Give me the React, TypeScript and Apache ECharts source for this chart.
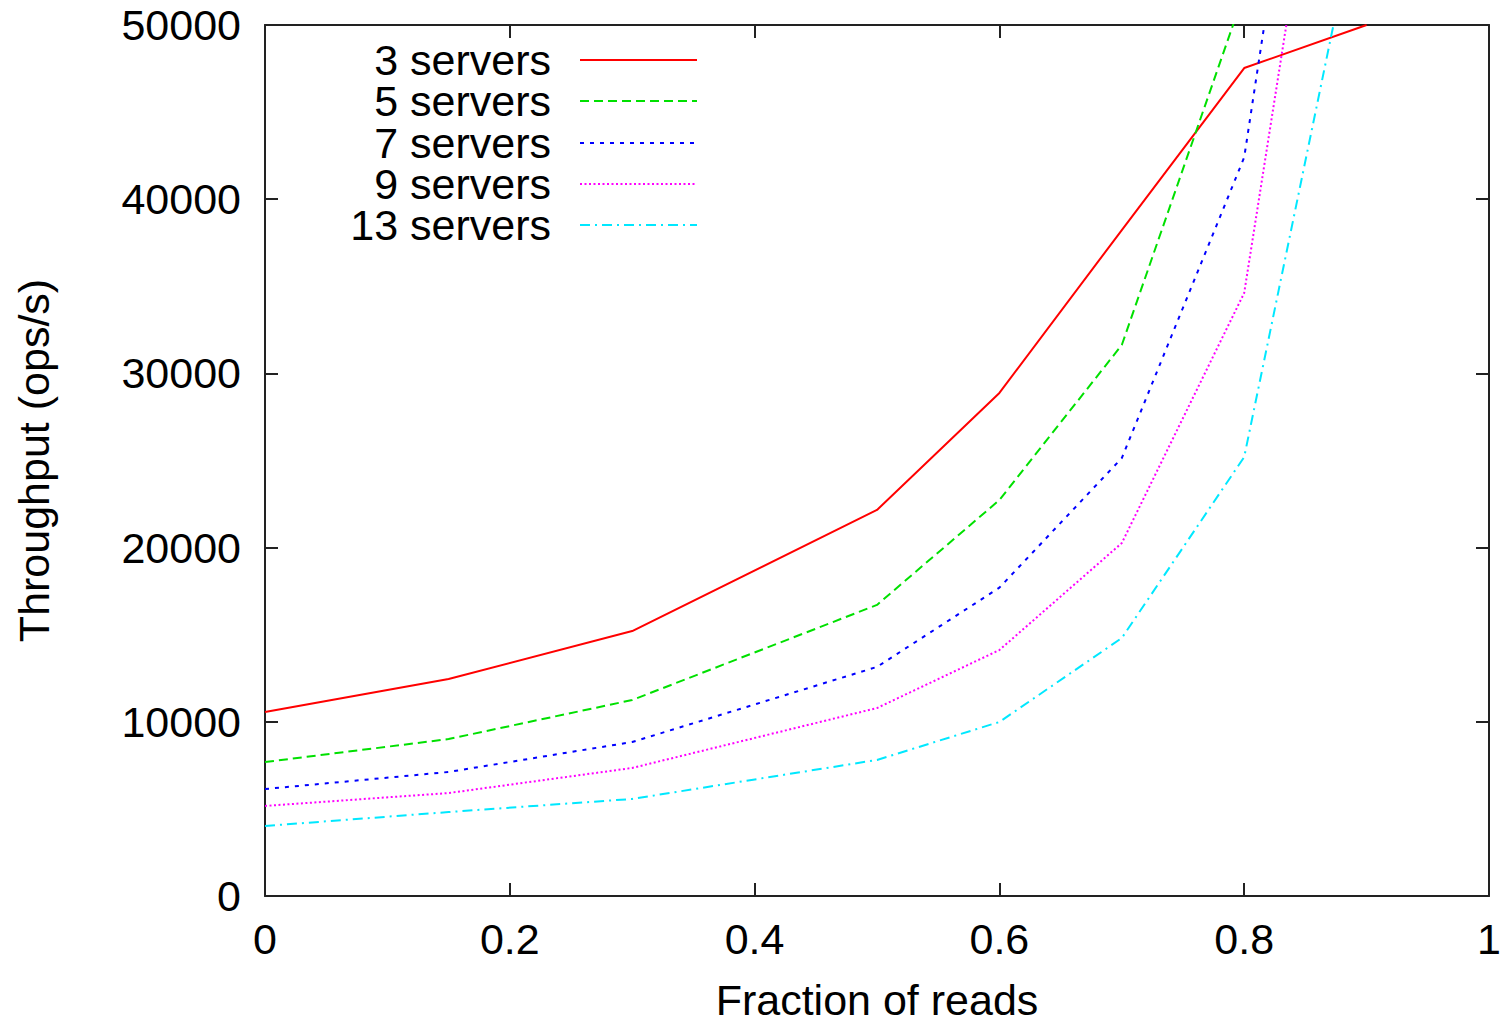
import React, { useEffect, useRef } from "react";
import * as echarts from "echarts";

const readFractions = [0, 0.15, 0.3, 0.5, 0.6, 0.7, 0.8, 0.9];
const servers3 = [10560, 12460, 15210, 22160, 28880, 38230, 47530, 50000];
const servers5 = [7690, 9010, 11250, 16710, 22730, 31630, 51840, null];
const servers7 = [6140, 7120, 8840, 13150, 17700, 25140, 42400, 88600];
const servers9 = [5170, 5910, 7350, 10790, 14120, 20260, 34620, 79300];
const servers13 = [4020, 4820, 5570, 7810, 9990, 14810, 25200, 59200];

const seriesNames = ["3 servers", "5 servers", "7 servers", "9 servers", "13 servers"];
const seriesValues = [servers3, servers5, servers7, servers9, servers13];
const seriesColors = ["#ff0000", "#00e000", "#0000ff", "#ff00ff", "#00e8ff"];
const seriesDash: (string | number[])[] = ["solid", [9, 5], [4, 6], [2, 2.5], [10, 5, 2, 5]];

const xTicks = [0, 0.2, 0.4, 0.6, 0.8, 1];
const yTicks = [0, 10000, 20000, 30000, 40000, 50000];

const FONT = "'Liberation Sans', Arial, Helvetica, sans-serif";
const FS = 43;

export default function App() {
  const ref = useRef<HTMLDivElement>(null);
  useEffect(() => {
    if (!ref.current) return;
    const chart = echarts.init(ref.current, undefined, { renderer: "svg" });
    const axisLine = { show: true, onZero: false, lineStyle: { color: "#222", width: 2 } };
    const axisTick = { show: true, inside: true, length: 13, lineStyle: { color: "#222", width: 2 } };

    const legendGraphics: any[] = [];
    const legendY = [60, 101, 143, 184, 225];
    seriesNames.forEach((n, i) => {
      legendGraphics.push({
        type: "text",
        x: 551,
        y: legendY[i],
        style: {
          text: n,
          fill: "#000",
          fontSize: 43,
          fontFamily: FONT,
          lineHeight: 38,
          textAlign: "right",
          textVerticalAlign: "middle",
        },
      });
      legendGraphics.push({
        type: "line",
        shape: { x1: 580, y1: legendY[i], x2: 697, y2: legendY[i] },
        style: {
          stroke: seriesColors[i],
          lineWidth: 2,
          lineDash: seriesDash[i] === "solid" ? null : seriesDash[i],
        },
      });
    });

    chart.setOption({
      animation: false,
      backgroundColor: "#fff",
      grid: {
        left: 265,
        right: 13,
        top: 25,
        bottom: 126,
        containLabel: false,
        outerBoundsMode: "none",
      },
      xAxis: [
        {
          type: "value",
          min: xTicks[0],
          max: xTicks[xTicks.length - 1],
          interval: 0.2,
          position: "bottom",
          name: "Fraction of reads",
          nameLocation: "middle",
          nameGap: 82,
          nameTextStyle: { fontSize: FS, fontFamily: FONT, color: "#000" },
          axisLine,
          axisTick,
          splitLine: { show: false },
          axisLabel: {
            fontSize: FS,
            fontFamily: FONT,
            color: "#000",
            margin: 21,
            formatter: (v: number) => String(Math.round(v * 10) / 10),
          },
        },
        {
          type: "value",
          min: xTicks[0],
          max: xTicks[xTicks.length - 1],
          interval: 0.2,
          position: "top",
          axisLine,
          axisTick,
          splitLine: { show: false },
          axisLabel: { show: false },
        },
      ],
      yAxis: [
        {
          type: "value",
          min: yTicks[0],
          max: yTicks[yTicks.length - 1],
          interval: 10000,
          position: "left",
          name: "Throughput (ops/s)",
          nameLocation: "middle",
          nameGap: 210,
          nameTextStyle: { fontSize: FS, fontFamily: FONT, color: "#000" },
          axisLine,
          axisTick,
          splitLine: { show: false },
          axisLabel: {
            fontSize: FS,
            fontFamily: FONT,
            color: "#000",
            margin: 24,
            formatter: (v: number) => String(v),
          },
        },
        {
          type: "value",
          min: yTicks[0],
          max: yTicks[yTicks.length - 1],
          interval: 10000,
          position: "right",
          axisLine,
          axisTick,
          splitLine: { show: false },
          axisLabel: { show: false },
        },
      ],
      series: seriesNames.map((name, i) => ({
        name,
        type: "line",
        xAxisIndex: 0,
        yAxisIndex: 0,
        symbol: "none",
        clip: true,
        connectNulls: false,
        data: readFractions.map((f, j) => [f, seriesValues[i][j]]),
        lineStyle: { color: seriesColors[i], width: 2, type: seriesDash[i] },
        itemStyle: { color: seriesColors[i] },
      })),
      graphic: legendGraphics,
    });
    return () => chart.dispose();
  }, []);
  return (
    <div
      ref={ref}
      style={{ position: "fixed", left: 0, top: 0, width: 1502, height: 1022 }}
    />
  );
}
